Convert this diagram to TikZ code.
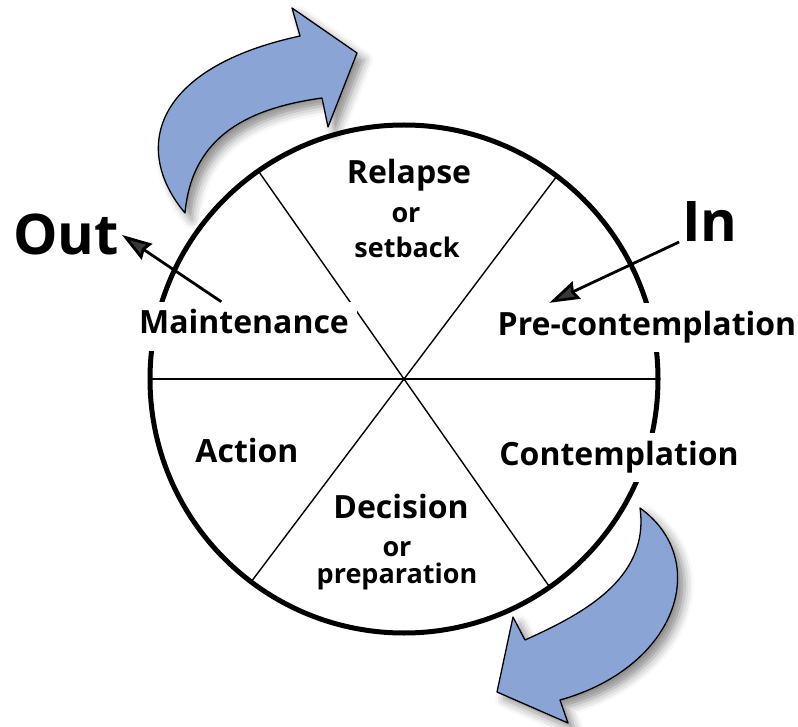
\documentclass[tikz,border=0pt]{standalone}
\usepackage{fontspec}
\setmainfont{Open Sans}
\usetikzlibrary{arrows.meta}
\usetikzlibrary{calc}
\usetikzlibrary{shadows.blur}
\definecolor{cycleblue}{RGB}{138,164,214}
\tikzset{
  stage/.style={fill=white, inner sep=8pt, text height=24pt, text depth=9pt, anchor=base, font=\fontsize{32}{32}\selectfont\bfseries},
  minor/.style={inner sep=0pt, anchor=base, font=\fontsize{27}{27}\selectfont\bfseries},
  inout/.style={inner sep=3pt, anchor=base, font=\fontsize{56}{56}\selectfont\bfseries},
  cyclearrow/.style={fill=cycleblue, draw=black, line width=1.3pt, line join=round, blur shadow={shadow xshift=7pt, shadow yshift=-7pt, shadow blur radius=9pt, shadow opacity=45}},
  exitarrow/.style={line width=2.8pt, -{Stealth[length=30pt,width=19pt,inset=3pt]}},
  divider/.style={line width=1.4pt},
}

\begin{document}
\begin{tikzpicture}[x=1pt, y=-1pt]
    \useasboundingbox (0,0) rectangle (798,727);
    \def\radius{254}

    % the two turning arrows
    \draw[cyclearrow] (185,213) .. controls (132,150) and (152,68) .. (300,36) -- (292,8) -- (357,53) -- (328,127) -- (322,98) .. controls (250,108) and (192,135) .. (185,213) -- cycle;
    \draw[cyclearrow] (640,508) .. controls (712,560) and (678,667) .. (560,700) -- (568,723) -- (497,692) -- (513,617) -- (525,640) .. controls (580,615) and (650,580) .. (640,508) -- cycle;

    % wheel
    \coordinate (c) at (404,379);
    \draw[line width=5pt] (c) circle[radius=\radius];
    \foreach \a [count=\i] in {0,-53,-125} {
      \coordinate (rimA\i) at ($(c)+(\a:\radius)$);
      \coordinate (rimB\i) at ($(c)+(\a+180:\radius)$);
      \draw[divider] (rimA\i) -- (rimB\i);
    }

    % stages
    \node[stage] (relapse) at (409,184) {Relapse};
    \node[minor] (relor) at (406,223) {or};
    \node[minor] (setback) at (407,258) {setback};
    \node[stage] (precont) at (647,335) {Pre-contemplation};
    \node[stage] (cont) at (619,465) {Contemplation};
    \node[stage] (decision) at (401,518) {Decision};
    \node[minor] (decor) at (397,556) {or};
    \node[minor] (prep) at (397,583) {preparation};
    \node[stage] (action) at (247,462) {Action};
    \node[stage] (maint) at (244,334) {Maintenance};

    % way in and way out
    \node[inout] (in) at (710,242) {In};
    \node[inout] (out) at (66,255) {Out};
    \draw[exitarrow] (in.base west) -- ($(precont.north west)!0.19!(precont.north east)$);
    \draw[exitarrow] ($(maint.north west)!0.4!(maint.north east)$) -- (out.east);
\end{tikzpicture}
\end{document}
